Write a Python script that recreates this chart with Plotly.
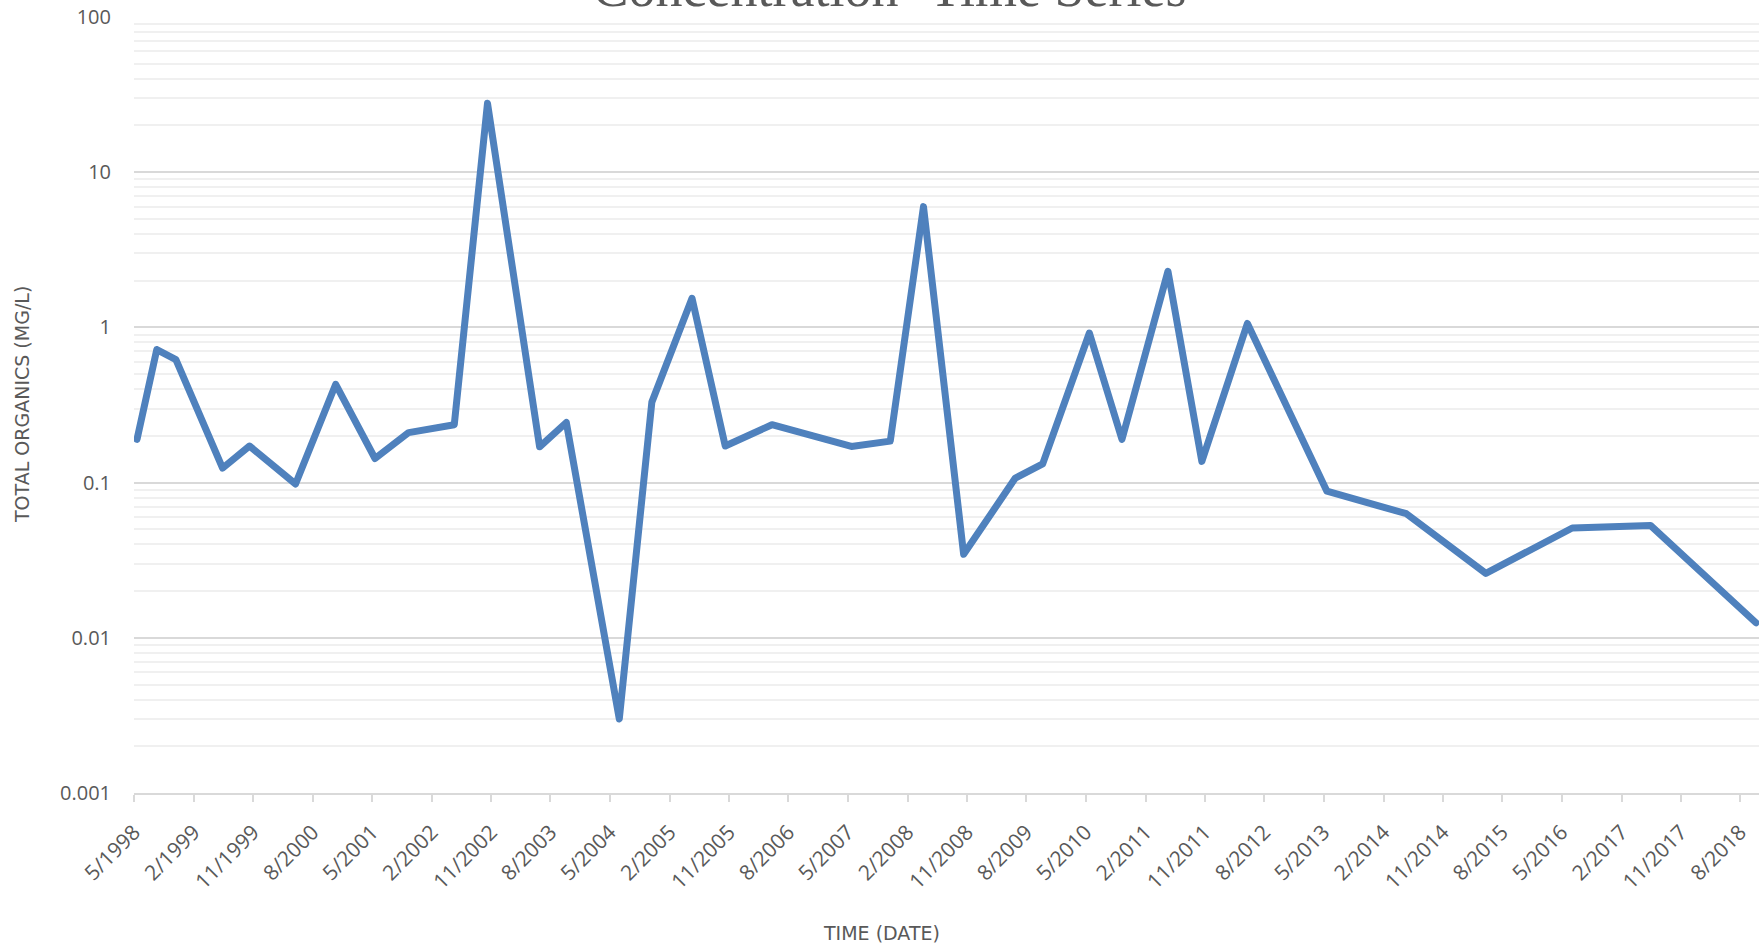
import plotly.graph_objects as go

# Sampling dates and measured total organics (mg/L)
sample_dates = [
    "1998-05-15", "1998-08-14", "1998-11-10", "1999-06-13", "1999-10-15",
    "2000-05-14", "2000-11-15", "2001-05-15", "2001-10-17", "2002-05-15",
    "2002-10-15", "2003-06-12", "2003-10-13", "2004-06-13", "2004-11-10",
    "2005-05-14", "2005-10-14", "2006-05-17", "2007-05-18", "2007-11-13",
    "2008-04-14", "2008-10-16", "2009-06-11", "2009-10-15", "2010-05-18",
    "2010-10-15", "2011-05-15", "2011-10-18", "2012-05-15", "2013-05-16",
    "2014-05-17", "2015-05-18", "2016-06-19", "2017-06-14", "2018-10-13",
]
total_organics = [
    0.19, 0.72, 0.62, 0.124, 0.172,
    0.098, 0.43, 0.143, 0.21, 0.236,
    27.8, 0.17, 0.244, 0.0030, 0.33,
    1.54, 0.172, 0.236, 0.171, 0.185,
    6.0, 0.0345, 0.107, 0.132, 0.92,
    0.19, 2.3, 0.137, 1.06, 0.088,
    0.063, 0.026, 0.051, 0.053, 0.0125,
]

# Date axis ticks, every nine months
tick_dates = [
    "1998-05-01", "1999-02-01", "1999-11-01", "2000-08-01", "2001-05-01",
    "2002-02-01", "2002-11-01", "2003-08-01", "2004-05-01", "2005-02-01",
    "2005-11-01", "2006-08-01", "2007-05-01", "2008-02-01", "2008-11-01",
    "2009-08-01", "2010-05-01", "2011-02-01", "2011-11-01", "2012-08-01",
    "2013-05-01", "2014-02-01", "2014-11-01", "2015-08-01", "2016-05-01",
    "2017-02-01", "2017-11-01", "2018-08-01",
]
tick_labels = [
    "5/1998", "2/1999", "11/1999", "8/2000", "5/2001",
    "2/2002", "11/2002", "8/2003", "5/2004", "2/2005",
    "11/2005", "8/2006", "5/2007", "2/2008", "11/2008",
    "8/2009", "5/2010", "2/2011", "11/2011", "8/2012",
    "5/2013", "2/2014", "11/2014", "8/2015", "5/2016",
    "2/2017", "11/2017", "8/2018",
]

# Logarithmic concentration axis
y_tick_values = [0.001, 0.01, 0.1, 1, 10, 100]
y_tick_labels = ["0.001", "0.01", "0.1", "1", "10", "100"]

x_range = ["1998-05-01", "2018-10-27"]

GRAY_TEXT = "#595959"
AXIS_GRAY = "#d9d9d9"
MINOR_GRAY = "#f0f0f0"
LINE_BLUE = "#4f81bd"

fig = go.Figure()
fig.add_trace(go.Scatter(
    x=sample_dates,
    y=total_organics,
    mode="lines",
    line=dict(color=LINE_BLUE, width=7),
    showlegend=False,
    hoverinfo="x+y",
))

x_tick_font = dict(family="Open Sans", size=21, color=GRAY_TEXT)
y_tick_font = dict(family="Open Sans", size=20, color=GRAY_TEXT)
title_font = dict(family="DejaVu Sans", size=19, color=GRAY_TEXT)

fig.update_layout(
    width=1762,
    height=947,
    margin=dict(l=134, r=3, t=17, b=154),
    paper_bgcolor="white",
    plot_bgcolor="white",
    title=dict(
        text="Concentration- Time Series",
        font=dict(family="Liberation Serif", size=54, color=GRAY_TEXT),
        xref="container", x=0.5048, xanchor="center",
        yref="container", y=1 - 6 / 947, yanchor="bottom",
    ),
    xaxis=dict(
        type="date",
        range=x_range,
        tickmode="array",
        tickvals=tick_dates,
        ticktext=tick_labels,
        tickangle=-45,
        tickfont=x_tick_font,
        ticks="outside",
        ticklen=7,
        tickwidth=1.5,
        tickcolor=AXIS_GRAY,
        ticklabelstandoff=10,
        showline=True,
        linecolor=AXIS_GRAY,
        linewidth=1.5,
        showgrid=False,
        zeroline=False,
    ),
    # overlay axis that draws the upper half of the crossing tick marks
    xaxis2=dict(
        type="date",
        range=x_range,
        overlaying="x",
        anchor="y",
        side="bottom",
        tickmode="array",
        tickvals=tick_dates,
        showticklabels=False,
        ticks="inside",
        ticklen=7,
        tickwidth=1.5,
        tickcolor=AXIS_GRAY,
        showline=False,
        showgrid=False,
        zeroline=False,
    ),
    yaxis=dict(
        type="log",
        range=[-3, 2],
        tickmode="array",
        tickvals=y_tick_values,
        ticktext=y_tick_labels,
        tickfont=y_tick_font,
        ticks="",
        ticklabelstandoff=22,
        showline=False,
        showgrid=True,
        gridcolor=AXIS_GRAY,
        gridwidth=1.5,
        zeroline=False,
        minor=dict(
            dtick="D1",
            showgrid=True,
            gridcolor=MINOR_GRAY,
            gridwidth=1.5,
            ticks="",
        ),
    ),
    annotations=[
        dict(
            text="TIME (DATE)",
            font=title_font,
            xref="paper", yref="paper",
            x=(881 - 134) / 1625, y=-(933 - 793.3) / 776.3,
            xanchor="center", yanchor="middle",
            showarrow=False,
        ),
        dict(
            text="TOTAL ORGANICS (MG/L)",
            font=title_font,
            textangle=-90,
            xref="paper", yref="paper",
            x=(22 - 134) / 1625, y=0.5,
            xanchor="center", yanchor="middle",
            showarrow=False,
        ),
    ],
)

# Rounded joins and caps on the concentration line
round_joins = (
    "var gd = document.getElementsByClassName('plotly-graph-div')[0];"
    "function roundLines(){"
    "gd.querySelectorAll('.scatterlayer path.js-line').forEach(function(p){"
    "p.style.strokeLinejoin='round';p.style.strokeLinecap='round';});}"
    "roundLines(); gd.on('plotly_afterplot', roundLines);"
)

fig.write_html("out.html", post_script=round_joins)
